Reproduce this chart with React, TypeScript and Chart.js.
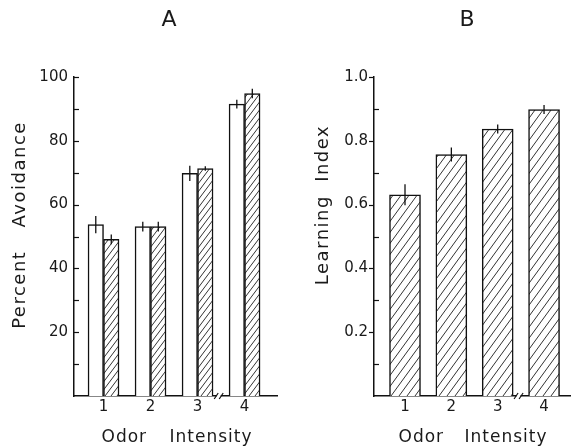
import React, { useEffect, useRef } from 'react';
import { Chart, registerables } from 'chart.js';

Chart.register(...registerables);

// ---- data ----
const intensities = [1, 2, 3, 4];
const avoidOpen = [53.7, 53.1, 69.8, 91.5];
const avoidOpenErr = [2.7, 1.5, 2.4, 1.4];
const avoidHatched = [49.1, 53.1, 71.3, 94.8];
const avoidHatchedErr = [1.5, 1.5, 0.7, 1.5];
const learningIndex = [0.631, 0.757, 0.837, 0.898];
const learningErr = [0.033, 0.022, 0.014, 0.014];
const avoidTickLabels = ['20', '40', '60', '80', '100'];
const learningTickLabels = ['0.2', '0.4', '0.6', '0.8', '1.0'];
const breakBetween = [3, 4];

const INK = '#1a1a1a';
const FONT = '"DejaVu Sans", sans-serif';

function makeHatch(w: number, h: number) {
  const c = document.createElement('canvas');
  c.width = w;
  c.height = h;
  const g = c.getContext('2d')!;
  g.fillStyle = '#fff';
  g.fillRect(0, 0, w, h);
  g.strokeStyle = '#333';
  g.lineWidth = 1;
  for (const s of [-w, 0, w]) {
    g.beginPath();
    g.moveTo(s - w * 0.5, h * 1.5);
    g.lineTo(s + w * 1.5, -h * 0.5);
    g.stroke();
  }
  return g.createPattern(c, 'repeat')!;
}

const decoPlugin = {
  id: 'deco',
  afterDatasetsDraw(chart: any) {
    const ctx = chart.ctx;
    const y = chart.scales.y;
    ctx.save();
    ctx.strokeStyle = '#111';
    ctx.lineWidth = 1.3;
    chart.data.datasets.forEach((ds: any, i: number) => {
      const errs = ds.errors;
      if (!errs) return;
      const meta = chart.getDatasetMeta(i);
      meta.data.forEach((el: any, j: number) => {
        const v = ds.data[j].y;
        ctx.beginPath();
        ctx.moveTo(el.x, y.getPixelForValue(v + errs[j]));
        ctx.lineTo(el.x, y.getPixelForValue(v - errs[j]));
        ctx.stroke();
      });
    });
    ctx.restore();
  },
  afterDraw(chart: any, _args: any, opts: any) {
    const ctx = chart.ctx;
    const x = chart.scales.x;
    const y = chart.scales.y;
    const area = chart.chartArea;
    ctx.save();
    // y ticks (drawn inward / outward)
    ctx.strokeStyle = '#111';
    ctx.lineWidth = 1.2;
    y.ticks.forEach((t: any) => {
      if (t.value === 0) return;
      const py = Math.round(y.getPixelForValue(t.value)) + 0.5;
      const major = t.label !== '';
      const dir = major ? opts.majorDir : 1;
      ctx.beginPath();
      ctx.moveTo(area.left, py);
      ctx.lineTo(area.left + dir * 5, py);
      ctx.stroke();
    });
    // axis break marks
    const bx = x.getPixelForValue((breakBetween[0] + breakBetween[1]) / 2 - 0.05);
    const by = area.bottom;
    ctx.fillStyle = '#fff';
    ctx.fillRect(bx - 2, by - 2, 4, 4);
    ctx.lineWidth = 1.2;
    for (const d of [-2.5, 2.5]) {
      ctx.beginPath();
      ctx.moveTo(bx + d - 2, by + 3);
      ctx.lineTo(bx + d + 2, by - 3);
      ctx.stroke();
    }
    // texts
    ctx.fillStyle = INK;
    ctx.textAlign = 'center';
    ctx.textBaseline = 'middle';
    ctx.font = `22px ${FONT}`;
    ctx.fillText(opts.letter, opts.letterX, opts.letterY);
    ctx.font = `17px ${FONT}`;
    ctx.letterSpacing = '1px';
    ctx.wordSpacing = opts.xWordSpacing + 'px';
    ctx.fillText(opts.xTitle, opts.xTitleX, opts.xTitleY);
    ctx.font = `18px ${FONT}`;
    ctx.letterSpacing = '1.5px';
    ctx.wordSpacing = opts.yWordSpacing + 'px';
    ctx.translate(opts.yTitleX, opts.yTitleY);
    ctx.rotate(-Math.PI / 2);
    ctx.fillText(opts.yTitle, 0, 0);
    ctx.restore();
  },
};

function baseOptions(cfg: any) {
  return {
    responsive: false,
    animation: false,
    devicePixelRatio: 1,
    layout: { padding: { left: 0, right: cfg.padRight, top: 77, bottom: 31 } },
    plugins: {
      legend: { display: false },
      tooltip: { enabled: false },
      title: { display: false },
      deco: cfg.deco,
    },
    scales: {
      x: {
        type: 'linear',
        offset: false,
        min: cfg.xMin,
        max: cfg.xMax,
        afterBuildTicks: (s: any) => {
          s.ticks = intensities.map((v) => ({ value: v }));
        },
        afterFit: (s: any) => {
          s.height = 20;
        },
        grid: { display: false, drawTicks: false, offset: false },
        border: { display: true, color: '#111', width: 1.5 },
        ticks: {
          autoSkip: false,
          padding: 2,
          color: INK,
          font: { family: FONT, size: 15 },
          callback: (v: number) => String(v),
        },
      },
      y: {
        type: 'linear',
        min: 0,
        max: cfg.yMax,
        afterFit: (s: any) => {
          s.width = cfg.yWidth;
        },
        grid: { display: false, drawTicks: false },
        border: { display: true, color: '#111', width: 1.5 },
        ticks: {
          stepSize: cfg.yStep,
          autoSkip: false,
          padding: cfg.yPad,
          color: INK,
          font: { family: FONT, size: 15 },
          callback: cfg.yLabel,
        },
      },
    },
  };
}

function PanelA() {
  const ref = useRef<HTMLCanvasElement>(null);
  useEffect(() => {
    const chart = new Chart(ref.current!, {
      type: 'bar',
      data: {
        datasets: [
          {
            data: intensities.map((v, i) => ({ x: v, y: avoidOpen[i] })),
            errors: avoidOpenErr,
            backgroundColor: '#fff',
            borderColor: '#111',
            borderWidth: 1.5,
            barThickness: 15.5,
          } as any,
          {
            data: intensities.map((v, i) => ({ x: v, y: avoidHatched[i] })),
            errors: avoidHatchedErr,
            backgroundColor: makeHatch(6, 8),
            borderColor: '#111',
            borderWidth: 1.5,
            barThickness: 15.5,
          } as any,
        ],
      },
      options: baseOptions({
        padRight: 10,
        xMin: 0.372,
        xMax: 4.69,
        yMax: 100,
        yStep: 10,
        yWidth: 74,
        yPad: 6,
        yLabel: (v: number) => (avoidTickLabels.includes(String(v)) ? String(v) : ''),
        deco: {
          letter: 'A',
          letterX: 169,
          letterY: 20,
          xTitle: 'Odor Intensity',
          xTitleX: 177,
          xTitleY: 438,
          xWordSpacing: 16,
          yTitle: 'Percent Avoidance',
          yTitleX: 20,
          yTitleY: 225,
          yWordSpacing: 16,
          majorDir: 1,
        },
      }) as any,
      plugins: [decoPlugin],
    });
    return () => chart.destroy();
  }, []);
  return <canvas ref={ref} width={287} height={447} style={{ position: 'absolute', left: 0, top: 0 }} />;
}

function PanelB() {
  const ref = useRef<HTMLCanvasElement>(null);
  useEffect(() => {
    const chart = new Chart(ref.current!, {
      type: 'bar',
      data: {
        datasets: [
          {
            data: intensities.map((v, i) => ({ x: v, y: learningIndex[i] })),
            errors: learningErr,
            backgroundColor: makeHatch(8, 11),
            borderColor: '#111',
            borderWidth: 1.5,
            barThickness: 31,
          } as any,
        ],
      },
      options: baseOptions({
        padRight: 4,
        xMin: 0.331,
        xMax: 4.56,
        yMax: 1,
        yStep: 0.1,
        yWidth: 87,
        yPad: 6,
        yLabel: (v: number) => {
          const s = v.toFixed(1);
          return learningTickLabels.includes(s) ? s : '';
        },
        deco: {
          letter: 'B',
          letterX: 180,
          letterY: 20,
          xTitle: 'Odor Intensity',
          xTitleX: 186,
          xTitleY: 438,
          xWordSpacing: 14,
          yTitle: 'Learning Index',
          yTitleX: 36,
          yTitleY: 205,
          yWordSpacing: 6,
          majorDir: -1,
        },
      }) as any,
      plugins: [decoPlugin],
    });
    return () => chart.destroy();
  }, []);
  return <canvas ref={ref} width={287} height={447} style={{ position: 'absolute', left: 287, top: 0 }} />;
}

export default function App() {
  return (
    <div style={{ position: 'fixed', left: 0, top: 0, width: 574, height: 447, background: '#fff' }}>
      <PanelA />
      <PanelB />
    </div>
  );
}
